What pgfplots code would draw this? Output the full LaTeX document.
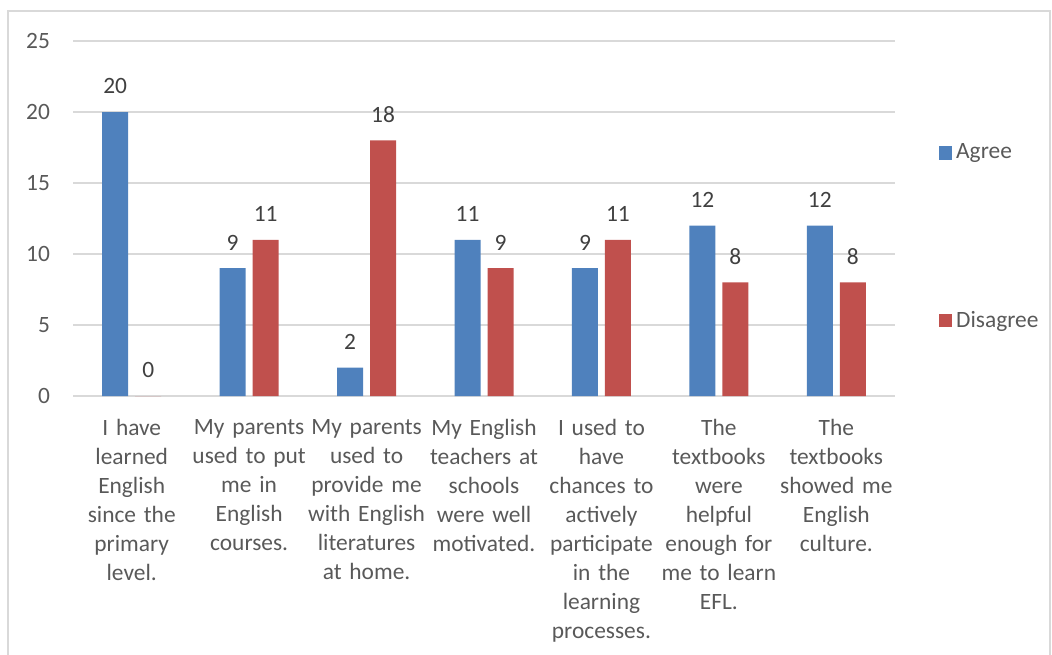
\documentclass[border=0pt]{standalone}
\usepackage{pgfplots}
\pgfplotsset{compat=1.18}
\usepackage{fontspec}
\setmainfont{Carlito}
\definecolor{agree}{HTML}{4F81BD}
\definecolor{disagree}{HTML}{C0504D}
\definecolor{gridc}{HTML}{D9D9D9}
\definecolor{txt}{HTML}{595959}
\definecolor{lbl}{HTML}{404040}
\newcommand{\cf}{\fontsize{11.7}{14.5}\selectfont}
\begin{document}
\begin{tikzpicture}
\useasboundingbox (-36.5pt,-129pt) rectangle (489.5pt,198pt);
\draw[gridc, line width=0.6pt] (-32.5pt,-140pt) -- (-32.5pt,192.5pt) -- (488.5pt,192.5pt) -- (488.5pt,-140pt);
\begin{axis}[
  scale only axis, width=411pt, height=177.5pt,
  ybar=3.5pt, bar width=13pt,
  xmin=-0.5, xmax=6.5, ymin=0, ymax=25,
  xtick={0,...,6},
  xticklabels={
    {I have\\learned\\English\\since the\\primary\\level.},
    {My parents\\used to put\\me in\\English\\courses.},
    {My parents\\used to\\provide me\\with English\\literatures\\at home.},
    {My English\\teachers at\\schools\\were well\\motivated.},
    {I used to\\have\\chances to\\actively\\participate\\in the\\learning\\processes.},
    {The\\textbooks\\were\\helpful\\enough for\\me to learn\\EFL.},
    {The\\textbooks\\showed me\\English\\culture.}},
  ytick={0,5,...,25},
  ymajorgrids, major grid style={gridc, line width=0.6pt},
  axis line style={draw=none}, tick style={draw=none},
  tick label style={font=\cf, text=txt},
  xticklabel style={align=center, text width=62pt, yshift=-4pt},
  yticklabel style={xshift=-8pt},
  /pgf/number format/assume math mode=true,
  nodes near coords,
  every node near coord/.append style={font=\cf, text=lbl, yshift=5.5pt},
  legend style={draw=none, fill=none, font=\cf, text=txt,
    at={(axis description cs:1.053,0.448)}, anchor=west, row sep=70.5pt,
    inner sep=0pt, nodes={inner sep=2pt, xshift=1pt}},
  legend cell align=left,
]
\addplot[fill=agree, draw=none, legend image code/.code={\fill[agree] (0pt,-3.3pt) rectangle (6.6pt,3.3pt);}]
  coordinates {(0,20) (1,9) (2,2) (3,11) (4,9) (5,12) (6,12)};
\addplot[fill=disagree, draw=none, legend image code/.code={\fill[disagree] (0pt,-3.3pt) rectangle (6.6pt,3.3pt);}]
  coordinates {(0,0) (1,11) (2,18) (3,9) (4,11) (5,8) (6,8)};
\legend{Agree, Disagree}
\end{axis}
\end{tikzpicture}
\end{document}
